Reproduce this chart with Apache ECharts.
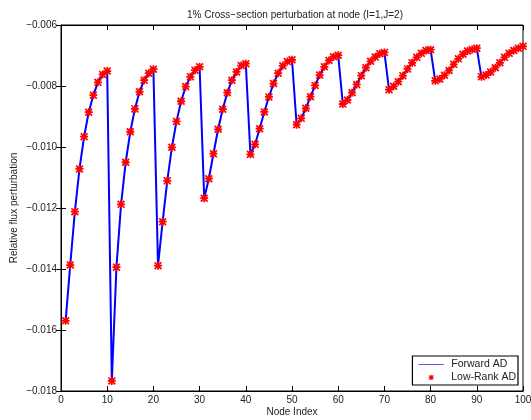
<!DOCTYPE html>
<html>
<head>
<meta charset="utf-8">
<script src="https://cdn.jsdelivr.net/npm/echarts@6/dist/echarts.min.js"></script>
<style>
  html, body { margin: 0; padding: 0; background: #fff; }
  #chart { width: 531px; height: 420px; }
</style>
</head>
<body>
<div id="chart"></div>
<script>
// Relative flux perturbation per node, in blocks of ten nodes
const relFlux = [
  -0.01570, -0.01387, -0.01212, -0.01072, -0.00966, -0.00886, -0.00830, -0.00788, -0.00762, -0.00751,
  -0.01767, -0.01394, -0.01188, -0.01050, -0.00950, -0.00875, -0.00819, -0.00781, -0.00758, -0.00745,
  -0.01389, -0.01245, -0.01111, -0.01001, -0.00916, -0.00850, -0.00802, -0.00770, -0.00748, -0.00737,
  -0.01168, -0.01104, -0.01022, -0.00942, -0.00876, -0.00822, -0.00781, -0.00754, -0.00733, -0.00727,
  -0.01024, -0.00991, -0.00940, -0.00885, -0.00836, -0.00792, -0.00758, -0.00734, -0.00720, -0.00714,
  -0.00927, -0.00906, -0.00873, -0.00835, -0.00798, -0.00764, -0.00737, -0.00716, -0.00704, -0.00699,
  -0.00859, -0.00846, -0.00822, -0.00795, -0.00766, -0.00740, -0.00719, -0.00705, -0.00694, -0.00690,
  -0.00812, -0.00801, -0.00786, -0.00766, -0.00744, -0.00724, -0.00706, -0.00693, -0.00684, -0.00681,
  -0.00783, -0.00777, -0.00765, -0.00749, -0.00729, -0.00711, -0.00696, -0.00685, -0.00680, -0.00676,
  -0.00770, -0.00764, -0.00754, -0.00740, -0.00724, -0.00706, -0.00693, -0.00684, -0.00676, -0.00670
];
// Forward AD and Low-Rank AD agree to plotting precision
const forwardAD = relFlux;
const lowRankAD = relFlux;

const seriesNames = ['Forward AD', 'Low-Rank AD'];
const xTicks = { min: 0, max: 100, step: 10 };
const yTicks = { min: -0.018, max: -0.006, step: 0.002 };
const titleText = '1% Cross\u2212section perturbation at node (I=1,J=2)';

const toPoints = arr => arr.map((v, i) => [i + 1, v]);

// asterisk marker: plus sign overlaid with a diagonal cross
const asteriskBody = 'M3.9,0H6.1V10H3.9Z M0,3.9H10V6.1H0Z M1.5,0L10,8.5L8.5,10L0,1.5Z M8.5,0L10,1.5L1.5,10L0,8.5Z';
const asterisk = 'path://' + asteriskBody;
// legend glyphs: empty end points widen the box so the visible part stays small
const legendAsterisk = 'path://M-3,-3L-3,-3 M13,13L13,13 ' + asteriskBody;
const legendLine = 'path://M0,0L0,0 M0,10L0,10 M0,4.4H32V5.6H0Z';

const font = 'Liberation Sans, Arial, Helvetica, sans-serif';
const tickFmt = v => (Math.abs(v) < 1e-12 ? '0' : v.toFixed(3).replace('-', '\u2212'));

const chart = echarts.init(document.getElementById('chart'), null, { renderer: 'canvas' });
chart.setOption({
  animation: false,
  backgroundColor: '#fff',
  title: {
    text: titleText,
    left: 290, top: 5, textAlign: 'center',
    textStyle: { fontFamily: font, fontSize: 10, fontWeight: 'normal', color: '#222' }
  },
  grid: {
    left: 61, right: 8, top: 25, bottom: 29,
    containLabel: false, outerBoundsMode: 'none',
    show: true, borderColor: '#000', borderWidth: 1, backgroundColor: '#fff'
  },
  legend: {
    data: [
      { name: seriesNames[0], icon: legendLine, itemStyle: { color: '#5555ff' } },
      { name: seriesNames[1], icon: legendAsterisk, itemStyle: { color: '#ff0000' } }
    ],
    orient: 'vertical',
    right: 13, bottom: 35,
    itemWidth: 32, itemHeight: 8, itemGap: 2,
    padding: [3, 2, 2, 6],
    backgroundColor: '#fff', borderColor: '#000', borderWidth: 1.2,
    textStyle: { fontFamily: font, fontSize: 10.5, color: '#222', padding: [0, 0, 0, -1] }
  },
  xAxis: [
    {
      type: 'value', min: xTicks.min, max: xTicks.max, interval: xTicks.step,
      name: 'Node Index', nameLocation: 'middle', nameGap: 16, nameMoveOverlap: false,
      nameTextStyle: { fontFamily: font, fontSize: 10, color: '#222' },
      axisLine: { show: true, lineStyle: { color: '#000', width: 1 } },
      axisTick: { inside: true, length: 5, lineStyle: { color: '#000' } },
      axisLabel: { fontFamily: font, fontSize: 10, color: '#222', margin: 4 },
      splitLine: { show: false }
    },
    {
      type: 'value', position: 'top', min: xTicks.min, max: xTicks.max, interval: xTicks.step,
      axisLine: { show: true, lineStyle: { color: '#000', width: 1 } },
      axisTick: { inside: true, length: 5, lineStyle: { color: '#000' } },
      axisLabel: { show: false }, splitLine: { show: false }
    }
  ],
  yAxis: [
    {
      type: 'value', min: yTicks.min, max: yTicks.max, interval: yTicks.step,
      name: 'Relative flux perturbation', nameLocation: 'middle', nameGap: 42, nameMoveOverlap: false,
      nameTextStyle: { fontFamily: font, fontSize: 10, color: '#222' },
      axisLine: { show: true, lineStyle: { color: '#000', width: 1 } },
      axisTick: { inside: true, length: 5, lineStyle: { color: '#000' } },
      axisLabel: { fontFamily: font, fontSize: 10, color: '#222', margin: 4, formatter: tickFmt },
      splitLine: { show: false }
    },
    {
      type: 'value', position: 'right', min: yTicks.min, max: yTicks.max, interval: yTicks.step,
      axisLine: { show: true, lineStyle: { color: '#000', width: 1 } },
      axisTick: { inside: true, length: 5, lineStyle: { color: '#000' } },
      axisLabel: { show: false }, splitLine: { show: false }
    }
  ],
  series: [
    {
      name: seriesNames[0], type: 'line', data: toPoints(forwardAD),
      symbol: 'none', color: '#0000ff',
      lineStyle: { color: '#0000ff', width: 2 }, z: 2
    },
    {
      name: seriesNames[1], type: 'scatter', data: toPoints(lowRankAD),
      symbol: asterisk, symbolSize: 8, symbolKeepAspect: true,
      color: '#ff0000', itemStyle: { color: '#ff0000', opacity: 1 }, z: 3
    }
  ]
});
</script>
</body>
</html>
